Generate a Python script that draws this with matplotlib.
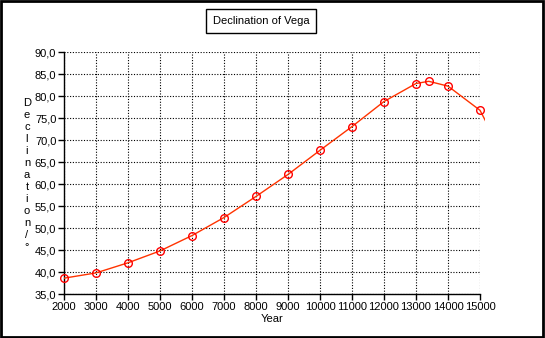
import matplotlib
matplotlib.use("Agg")
import matplotlib.pyplot as plt
from matplotlib.patches import Rectangle
from matplotlib.ticker import FuncFormatter

# data
years = [2000, 3000, 4000, 5000, 6000, 7000, 8000, 9000, 10000, 11000, 12000, 13000, 13400, 14000, 15000, 16000]
decl = [38.6, 39.8, 42.1, 44.8, 48.3, 52.4, 57.2, 62.2, 67.7, 73.1, 78.8, 82.9, 83.4, 82.3, 76.8, 62.8]
x_ticks = list(range(2000, 15001, 1000))
y_ticks = [35, 40, 45, 50, 55, 60, 65, 70, 75, 80, 85, 90]

plt.rcParams['font.family'] = 'Liberation Sans'
fig = plt.figure(figsize=(5.45, 3.38), dpi=100)
fig.patches.append(Rectangle((0.001, 0.002), 0.995, 0.994, transform=fig.transFigure,
                             fill=False, edgecolor='black', linewidth=2))

ax = fig.add_axes([64 / 545, 44 / 338, 416 / 545, 241.7 / 338])
line, = ax.plot(years, decl, color='#ff3300', linewidth=1, zorder=3)
# the line runs a few pixels past the last gridline, like in the original
clip = Rectangle((0, 0), 1.013, 1.0, transform=ax.transAxes)
line.set_clip_path(clip)
ax.plot(years[:-1], decl[:-1], linestyle='none', marker='o', markersize=5.5,
        markerfacecolor='none', markeredgecolor='#ff0000', markeredgewidth=1, zorder=4, clip_on=False)

ax.set_xlim(2000, 15000)
ax.set_ylim(35, 90)
ax.set_xticks(x_ticks)
ax.set_yticks(y_ticks)
ax.yaxis.set_major_formatter(FuncFormatter(lambda v, p: f'{v:.1f}'.replace('.', ',')))
ax.tick_params(axis='both', direction='out', length=4, width=1, labelsize=8, pad=1.5, colors='black')
ax.grid(True, color='black', linestyle=(0, (1, 1.5)), linewidth=0.8)
for s in ['top', 'right']:
    ax.spines[s].set_visible(False)
for s in ['left', 'bottom']:
    ax.spines[s].set_linewidth(1)

ax.set_xlabel('Year', fontsize=8, labelpad=2)
fig.text(27 / 545, 1 - 175 / 338, '\n'.join('Declination /°'.replace(' ', '')), fontsize=8,
         ha='center', va='center', linespacing=1.25)

fig.text(261 / 545, 1 - 21 / 338, 'Declination of Vega', fontsize=8, ha='center', va='center',
         bbox=dict(boxstyle='square,pad=0.6', facecolor='white', edgecolor='black', linewidth=1))

fig.savefig('out.png', dpi=100)
